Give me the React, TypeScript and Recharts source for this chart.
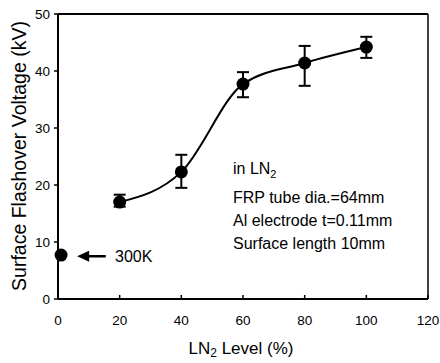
import { ComposedChart, Line, Scatter, XAxis, YAxis, ErrorBar, ReferenceLine, ReferenceDot } from 'recharts';

// LN2 level (%) vs surface flashover voltage (kV)
const levels = [20, 40, 60, 80, 100];
const voltages = [17.0, 22.3, 37.7, 41.4, 44.2];
const lowerBounds = [16.2, 19.5, 35.4, 37.4, 42.3];
const upperBounds = [18.3, 25.3, 39.8, 44.4, 46.0];

// room temperature (300K) point
const roomLevels = [1];
const roomVoltages = [7.7];

const xTicks = [0, 20, 40, 60, 80, 100, 120];
const yTicks = [0, 10, 20, 30, 40, 50];
const notes = ['FRP tube dia.=64mm', 'Al electrode t=0.11mm', 'Surface length 10mm'];

const lnData = levels.map((x, i) => ({
  x,
  v: voltages[i],
  err: [voltages[i] - lowerBounds[i], upperBounds[i] - voltages[i]],
}));
const roomData = roomLevels.map((x, i) => ({ x, v: roomVoltages[i] }));

const FONT = 'Arial, "Liberation Sans", sans-serif';

const YLabel = (props: any) => {
  const cx = 19;
  const cy = 156;
  return (
    <text x={cx} y={cy} transform={`rotate(-90 ${cx} ${cy})`} textAnchor="middle" dominantBaseline="central"
      fontSize={19.5} fontFamily={FONT} fill="#000">
      Surface Flashover Voltage (kV)
    </text>
  );
};

const XLabel = (props: any) => (
  <text x={241} y={354} textAnchor="middle" fontSize={17} fontFamily={FONT} fill="#000">
    LN<tspan fontSize={12} dy={3}>2</tspan><tspan dy={-3}> Level (%)</tspan>
  </text>
);

const ArrowHead = (p: any) => (
  <polygon points={`${p.cx},${p.cy} ${p.cx + 12},${p.cy - 5.5} ${p.cx + 12},${p.cy + 5.5}`} fill="#000" />
);

export default function App() {
  return (
    <div style={{ position: 'absolute', left: 0, top: 0, width: 440, height: 363, background: '#fff', fontFamily: FONT }}>
      <ComposedChart width={440} height={363} data={lnData} margin={{ top: 14, right: 12, left: 0, bottom: 0 }}>
        <XAxis dataKey="x" type="number" domain={[0, 120]} ticks={xTicks} height={64}
          axisLine={{ stroke: '#000', strokeWidth: 2 }} tickLine={{ stroke: '#000', strokeWidth: 1.5 }}
          tickSize={-4} tickMargin={20} tick={{ fill: '#000', fontSize: 13.5, fontFamily: FONT }}
          label={<XLabel />} />
        <YAxis type="number" domain={[0, 50]} ticks={yTicks} width={58}
          axisLine={{ stroke: '#000', strokeWidth: 2 }} tickLine={{ stroke: '#000', strokeWidth: 1.5 }}
          tickSize={4} tickMargin={4} tick={{ fill: '#000', fontSize: 13.5, fontFamily: FONT }}
          label={<YLabel />} />
        <ReferenceLine y={50} stroke="#000" strokeWidth={2} />
        <ReferenceLine x={120} stroke="#000" strokeWidth={1.5} />
        <ReferenceLine segment={[{ x: 8, y: 7.5 }, { x: 15.5, y: 7.5 }]} stroke="#000" strokeWidth={2.5} />
        <ReferenceDot x={6.2} y={7.5} shape={ArrowHead} />
        <Line dataKey="v" type="monotone" stroke="#000" strokeWidth={2}
          dot={{ r: 6.5, fill: '#000', stroke: '#000', strokeWidth: 0 }} activeDot={false}
          isAnimationActive={false}>
          <ErrorBar dataKey="err" width={6} stroke="#000" strokeWidth={2} direction="y" />
        </Line>
        <Scatter data={roomData} dataKey="v" fill="#000" isAnimationActive={false}
          shape={(p: any) => <circle cx={p.cx} cy={p.cy} r={6.5} fill="#000" />} />
      </ComposedChart>

      <div style={{ position: 'absolute', left: 115, top: 247, fontSize: 16, lineHeight: '20px' }}>300K</div>
      <div style={{ position: 'absolute', left: 233, top: 157, fontSize: 16, lineHeight: '23px', whiteSpace: 'nowrap' }}>
        <div>in LN<sub style={{ fontSize: 11 }}>2</sub></div>
        {notes.map((n) => (
          <div key={n}>{n}</div>
        ))}
      </div>
    </div>
  );
}
